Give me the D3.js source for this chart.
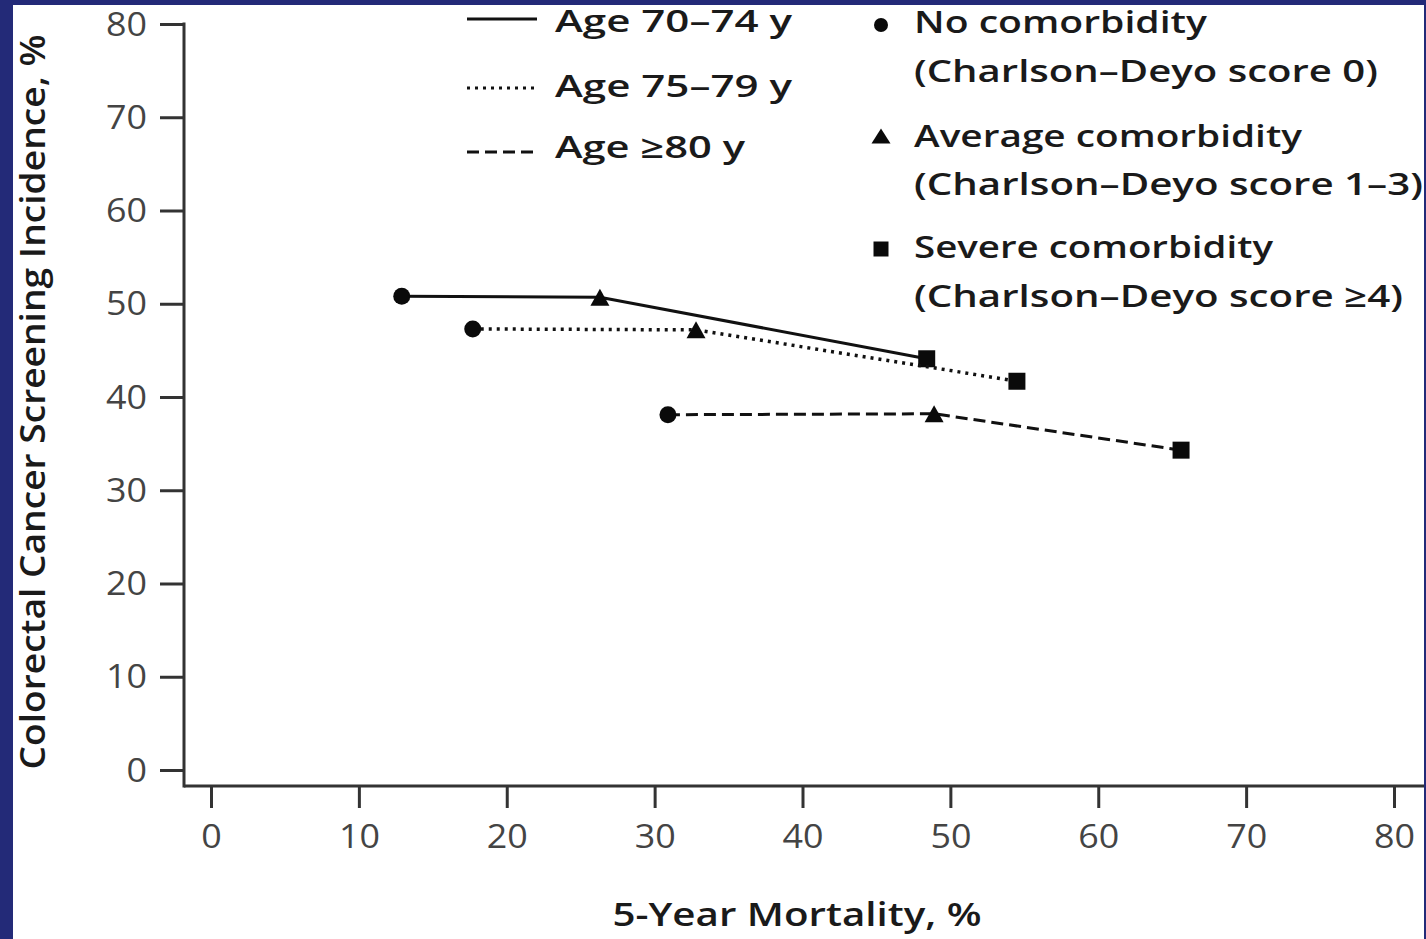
<!DOCTYPE html>
<html>
<head>
<meta charset="utf-8">
<script src="https://cdn.jsdelivr.net/npm/d3@7"></script>
<style>
  html, body { margin: 0; padding: 0; background: #232a78; }
  svg { display: block; }
  text { font-family: "Open Sans", "DejaVu Sans", sans-serif; }
</style>
</head>
<body>
<svg id="chart" width="1426" height="939"></svg>
<script>
// ---------------- data ----------------
const xTicks = [0, 10, 20, 30, 40, 50, 60, 70, 80];
const yTicks = [0, 10, 20, 30, 40, 50, 60, 70, 80];
const comorbidityLabels = ["No comorbidity", "Average comorbidity", "Severe comorbidity"];
const comorbiditySubLabels = ["(Charlson\u2013Deyo score 0)", "(Charlson\u2013Deyo score 1\u20133)", "(Charlson\u2013Deyo score \u22654)"];
const comorbidityShapes = ["circle", "triangle", "square"];
const ageGroups = ["Age 70\u201374 y", "Age 75\u201379 y", "Age \u226580 y"];
const ageStyles = ["solid", "dotted", "dashed"];
// 5-year mortality (%) and screening incidence (%), ordered by comorbidity
const mortality70 = [12.9, 26.3, 48.4];
const screening70 = [50.8, 50.7, 44.1];
const mortality75 = [17.7, 32.8, 54.5];
const screening75 = [47.3, 47.2, 41.7];
const mortality80 = [30.9, 48.9, 65.6];
const screening80 = [38.1, 38.2, 34.3];
const xTitle = "5-Year Mortality, %";
const yTitle = "Colorectal Cancer Screening Incidence, %";

// ---------------- setup ----------------
const svg = d3.select("#chart");
svg.append("rect").attr("x", 13).attr("y", 5).attr("width", 1411).attr("height", 934).attr("fill", "#ffffff");

const x = d3.scaleLinear().domain([0, 80]).range([211, 1394]);
const y = d3.scaleLinear().domain([0, 80]).range([770, 24]);
const axisX0 = 184, axisY0 = 786;
const axisColor = "#333";
const dashFor = { solid: null, dotted: "3,5", dashed: "12,6" };

function stretch(sel, k) {
  sel.each(function () {
    const w = this.getComputedTextLength();
    d3.select(this).attr("textLength", w * k).attr("lengthAdjust", "spacingAndGlyphs");
  });
}

// Y axis
const gy = svg.append("g").attr("transform", `translate(${axisX0},0)`)
  .call(d3.axisLeft(y).tickValues(yTicks).tickSize(24).tickPadding(13).tickFormat(d3.format("d")));
gy.select(".domain").remove();
gy.selectAll(".tick line").attr("stroke", axisColor).attr("stroke-width", 3);
gy.selectAll(".tick text").attr("font-size", 32).attr("fill", "#444").attr("x", -37).attr("dy", "0.35em");
stretch(gy.selectAll(".tick text"), 1.12);

// X axis
const gx = svg.append("g").attr("transform", `translate(0,${axisY0})`)
  .call(d3.axisBottom(x).tickValues(xTicks).tickSize(22).tickFormat(d3.format("d")));
gx.select(".domain").remove();
gx.selectAll(".tick line").attr("stroke", axisColor).attr("stroke-width", 3);
gx.selectAll(".tick text").attr("font-size", 32).attr("fill", "#444").attr("y", 62).attr("dy", 0);
stretch(gx.selectAll(".tick text"), 1.12);

// axis lines
svg.append("line").attr("x1", axisX0).attr("x2", axisX0).attr("y1", y(80) - 1.5).attr("y2", axisY0 + 1.5)
  .attr("stroke", axisColor).attr("stroke-width", 3);
svg.append("line").attr("x1", axisX0).attr("x2", 1424).attr("y1", axisY0).attr("y2", axisY0)
  .attr("stroke", axisColor).attr("stroke-width", 3);

// titles
svg.append("text").attr("x", 797).attr("y", 926).attr("text-anchor", "middle")
  .attr("font-size", 32).attr("font-weight", 600).attr("fill", "#1a1a1a")
  .attr("textLength", 369).attr("lengthAdjust", "spacingAndGlyphs").text(xTitle);
svg.append("text").attr("transform", "translate(45,402) rotate(-90)").attr("text-anchor", "middle")
  .attr("font-size", 34).attr("font-weight", 600).attr("fill", "#1a1a1a")
  .attr("textLength", 735).attr("lengthAdjust", "spacingAndGlyphs").text(yTitle);

// ---------------- markers ----------------
function markerPath(shape, cx, cy, s) {
  if (shape === "circle") {
    const p = d3.path(); p.arc(cx, cy, s.r, 0, 2 * Math.PI); return p.toString();
  }
  if (shape === "triangle") {
    const w = s.tw, h = s.th;
    return `M${cx},${cy - h / 2}L${cx + w / 2},${cy + h / 2}L${cx - w / 2},${cy + h / 2}Z`;
  }
  const a = s.sq;
  return `M${cx - a / 2},${cy - a / 2}h${a}v${a}h${-a}Z`;
}
const plotSize = { r: 8.5, tw: 19, th: 17, sq: 17 };
const legendSize = { r: 7, tw: 19, th: 15, sq: 15 };

// ---------------- series ----------------
const series = [
  { mort: mortality70, scr: screening70, style: ageStyles[0] },
  { mort: mortality75, scr: screening75, style: ageStyles[1] },
  { mort: mortality80, scr: screening80, style: ageStyles[2] }
];
const line = d3.line().x(d => x(d[0])).y(d => y(d[1]));
series.forEach(s => {
  const pts = s.mort.map((m, i) => [m, s.scr[i]]);
  svg.append("path").attr("d", line(pts)).attr("fill", "none").attr("stroke", "#111")
    .attr("stroke-width", s.style === "dotted" ? 3.5 : 3).attr("stroke-dasharray", dashFor[s.style]);
  pts.forEach((p, i) => {
    svg.append("path").attr("d", markerPath(comorbidityShapes[i], x(p[0]), y(p[1]), plotSize)).attr("fill", "#0a0a0a");
  });
});

// ---------------- legends ----------------
const ageLegendLineY = [19, 88, 152];
const ageLegendBase = [32, 97, 158];
const ageLegendWidth = [237, 237, 190];
ageGroups.forEach((g, i) => {
  svg.append("line").attr("x1", 467).attr("x2", 537).attr("y1", ageLegendLineY[i]).attr("y2", ageLegendLineY[i])
    .attr("stroke", "#111").attr("stroke-width", 3).attr("stroke-dasharray", dashFor[ageStyles[i]]);
  svg.append("text").attr("x", 555).attr("y", ageLegendBase[i]).attr("font-size", 31).attr("font-weight", 600)
    .attr("fill", "#1a1a1a").attr("textLength", ageLegendWidth[i]).attr("lengthAdjust", "spacingAndGlyphs").text(g);
});

const comMarkerY = [25, 136, 249];
const comBase = [[33, 82], [147, 195], [258, 307]];
const comWidth = [[293, 464], [388, 509], [359, 489]];
comorbidityLabels.forEach((c, i) => {
  svg.append("path").attr("d", markerPath(comorbidityShapes[i], 881, comMarkerY[i], legendSize)).attr("fill", "#0a0a0a");
  svg.append("text").attr("x", 914).attr("y", comBase[i][0]).attr("font-size", 31).attr("font-weight", 600)
    .attr("fill", "#1a1a1a").attr("textLength", comWidth[i][0]).attr("lengthAdjust", "spacingAndGlyphs").text(c);
  svg.append("text").attr("x", 914).attr("y", comBase[i][1]).attr("font-size", 31).attr("font-weight", 600)
    .attr("fill", "#1a1a1a").attr("textLength", comWidth[i][1]).attr("lengthAdjust", "spacingAndGlyphs").text(comorbiditySubLabels[i]);
});
</script>
</body>
</html>
